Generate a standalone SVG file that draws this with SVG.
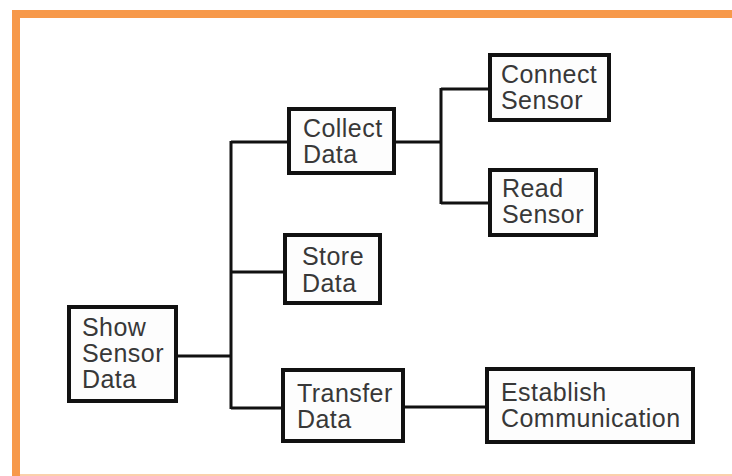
<svg xmlns="http://www.w3.org/2000/svg" width="732" height="476" viewBox="0 0 732 476">
<style>
.box{fill:#fdfdfd;stroke:#111;stroke-width:4}
.lbl{font-family:"Liberation Sans",Arial,sans-serif;font-size:25px;letter-spacing:0.45px;fill:#383838}
.conn{fill:none;stroke:#111;stroke-width:3}
</style>
<rect width="732" height="476" fill="#fff"/>
<rect x="12" y="10" width="720" height="8" fill="#f7994a"/>
<rect x="12" y="10" width="8" height="466" fill="#f7994a"/>
<rect x="20" y="474" width="712" height="2" fill="#fbd0ac"/>
<g id="connectors">
<path class="conn" d="M178 356H231M231 141V409M231 142H287M231 272H283M231 408H281"/>
<path class="conn" d="M396 142H441M441 88V204M441 89H488M441 203H488"/>
<path class="conn" d="M405 407H485"/>
</g>
<g id="show">
<rect class="box" x="69" y="307" width="107" height="94"/>
<text class="lbl" x="82" y="336">Show</text>
<text class="lbl" x="82" y="362">Sensor</text>
<text class="lbl" x="82" y="388">Data</text>
</g>
<g id="collect">
<rect class="box" x="289" y="109" width="105" height="64"/>
<text class="lbl" x="303" y="137">Collect</text>
<text class="lbl" x="303" y="163">Data</text>
</g>
<g id="store">
<rect class="box" x="285" y="235" width="95" height="68"/>
<text class="lbl" x="302" y="265">Store</text>
<text class="lbl" x="302" y="292">Data</text>
</g>
<g id="transfer">
<rect class="box" x="283" y="370" width="120" height="71"/>
<text class="lbl" x="297" y="402">Transfer</text>
<text class="lbl" x="297" y="428">Data</text>
</g>
<g id="connect">
<rect class="box" x="490" y="55" width="119" height="65"/>
<text class="lbl" x="501" y="83">Connect</text>
<text class="lbl" x="501" y="109">Sensor</text>
</g>
<g id="read">
<rect class="box" x="490" y="170" width="106" height="65"/>
<text class="lbl" x="502" y="197">Read</text>
<text class="lbl" x="502" y="223">Sensor</text>
</g>
<g id="establish">
<rect class="box" x="487" y="369" width="206" height="73"/>
<text class="lbl" x="501" y="401">Establish</text>
<text class="lbl" x="501" y="427">Communication</text>
</g>
</svg>
